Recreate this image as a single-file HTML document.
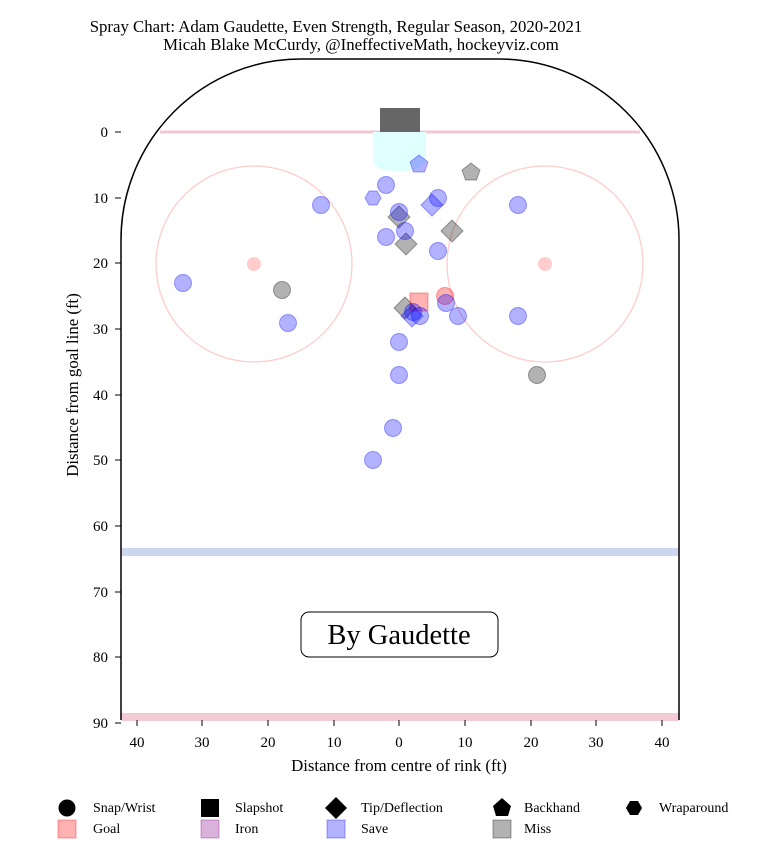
<!DOCTYPE html><html><head><style>body{margin:0;background:#fff}svg{display:block;font-family:"Liberation Serif",serif}</style></head><body>
<svg width="763" height="865" viewBox="0 0 763 865" xmlns="http://www.w3.org/2000/svg">
<text x="336" y="32" font-size="16.8" text-anchor="middle">Spray Chart: Adam Gaudette, Even Strength, Regular Season, 2020-2021</text>
<text x="361" y="50" font-size="16.8" text-anchor="middle">Micah Blake McCurdy, @IneffectiveMath, hockeyviz.com</text>
<line x1="160" y1="132" x2="640" y2="132" stroke="#f0c8d2" stroke-width="3"/>
<rect x="121" y="548" width="558" height="8" fill="#ccd6ee"/>
<rect x="121" y="713" width="558" height="8" fill="#f3cad5"/>
<path d="M373,132 H426 V160 Q426,171 399,171 Q373,171 373,160 Z" fill="#e0ffff"/>
<rect x="380" y="108" width="40" height="24" fill="#666"/>
<path d="M121,720 V240 A180,181 0 0 1 301,59 H499 A180,181 0 0 1 679,240 V720" fill="none" stroke="#000" stroke-width="1.5"/>
<circle cx="254" cy="264" r="98" fill="none" stroke="#fcc" stroke-width="1.3"/>
<circle cx="545" cy="264" r="98" fill="none" stroke="#fcc" stroke-width="1.3"/>
<circle cx="254" cy="264" r="7" fill="#fcc"/><circle cx="545" cy="264" r="7" fill="#fcc"/>
<g fill="rgba(0,0,0,0.3)" stroke="rgba(0,0,0,0.35)">
<circle cx="282" cy="290" r="8.5"/><circle cx="537" cy="375" r="8.5"/>
<polygon points="399,206 410,217 399,228 388,217"/><polygon points="406,233 417,244 406,255 395,244"/>
<polygon points="452,220 463,231 452,242 441,231"/><polygon points="405,297 416,308 405,319 394,308"/>
<polygon points="471,163 480,170 476.5,180 465.5,180 462,170"/>
</g>
<g fill="rgba(255,0,0,0.3)" stroke="rgba(255,0,0,0.35)">
<circle cx="445" cy="296" r="8.5"/><rect x="410" y="293" width="18" height="18"/>
</g>
<g fill="rgba(0,0,255,0.3)" stroke="rgba(0,0,255,0.35)">
<circle cx="386" cy="185" r="8.5"/><circle cx="321" cy="205" r="8.5"/><circle cx="399" cy="212" r="8.5"/><circle cx="405" cy="231" r="8.5"/><circle cx="386" cy="237" r="8.5"/><circle cx="438" cy="198" r="8.5"/><circle cx="438" cy="251" r="8.5"/><circle cx="183" cy="283" r="8.5"/><circle cx="288" cy="323" r="8.5"/><circle cx="446" cy="303" r="8.5"/><circle cx="458" cy="316" r="8.5"/><circle cx="518" cy="205" r="8.5"/><circle cx="518" cy="316" r="8.5"/><circle cx="399" cy="342" r="8.5"/><circle cx="399" cy="375" r="8.5"/><circle cx="393" cy="428" r="8.5"/><circle cx="373" cy="460" r="8.5"/><circle cx="413" cy="312" r="8.5"/><circle cx="420" cy="316" r="8.5"/>
<polygon points="365,198 369,191 377,191 381,198 377,205 369,205"/>
<polygon points="419,155 428,162 424.5,172 413.5,172 410,162"/>
<polygon points="432,194 443,205 432,216 421,205"/>
<polygon points="412,305 423,316 412,327 401,316"/>
</g>
<g font-size="15" text-anchor="end">
<text x="108" y="137">0</text><text x="108" y="203">10</text><text x="108" y="268">20</text><text x="108" y="334">30</text><text x="108" y="400">40</text><text x="108" y="465">50</text><text x="108" y="531">60</text><text x="108" y="597">70</text><text x="108" y="662">80</text><text x="108" y="728">90</text>
</g>
<g stroke="#000"><line x1="115" y1="132" x2="121" y2="132"/><line x1="115" y1="198" x2="121" y2="198"/><line x1="115" y1="263" x2="121" y2="263"/><line x1="115" y1="329" x2="121" y2="329"/><line x1="115" y1="395" x2="121" y2="395"/><line x1="115" y1="460" x2="121" y2="460"/><line x1="115" y1="526" x2="121" y2="526"/><line x1="115" y1="592" x2="121" y2="592"/><line x1="115" y1="657" x2="121" y2="657"/><line x1="115" y1="723" x2="121" y2="723"/>
<line x1="137" y1="720" x2="137" y2="726"/><line x1="202" y1="720" x2="202" y2="726"/><line x1="268" y1="720" x2="268" y2="726"/><line x1="334" y1="720" x2="334" y2="726"/><line x1="399" y1="720" x2="399" y2="726"/><line x1="465" y1="720" x2="465" y2="726"/><line x1="531" y1="720" x2="531" y2="726"/><line x1="596" y1="720" x2="596" y2="726"/><line x1="662" y1="720" x2="662" y2="726"/></g>
<g font-size="15" text-anchor="middle">
<text x="137" y="747">40</text><text x="202" y="747">30</text><text x="268" y="747">20</text><text x="334" y="747">10</text><text x="399" y="747">0</text><text x="465" y="747">10</text><text x="531" y="747">20</text><text x="596" y="747">30</text><text x="662" y="747">40</text>
<text x="399" y="771" font-size="16.8">Distance from centre of rink (ft)</text>
</g>
<text transform="translate(78,385) rotate(-90)" font-size="16.8" text-anchor="middle">Distance from goal line (ft)</text>
<rect x="301" y="612" width="197" height="45" rx="8" fill="#fff" stroke="#000"/>
<text x="399" y="644" font-size="28.5" text-anchor="middle">By Gaudette</text>
<g font-size="14">
<circle cx="67" cy="808" r="8.5"/><text x="93" y="812">Snap/Wrist</text>
<rect x="201" y="799" width="18" height="18"/><text x="235" y="812">Slapshot</text>
<polygon points="336,797 347,808 336,819 325,808"/><text x="361" y="812">Tip/Deflection</text>
<polygon points="502,798 511,806 508,816 496,816 493,806"/><text x="524" y="812">Backhand</text>
<polygon points="626,808 630,801 638,801 642,808 638,815 630,815"/><text x="659" y="812">Wraparound</text>
<rect x="58" y="820" width="18" height="18" fill="rgba(255,0,0,0.3)" stroke="rgba(255,0,0,0.35)"/><text x="93" y="833">Goal</text>
<rect x="201" y="820" width="18" height="18" fill="rgba(128,0,128,0.3)" stroke="rgba(128,0,128,0.35)"/><text x="235" y="833">Iron</text>
<rect x="327" y="820" width="18" height="18" fill="rgba(0,0,255,0.3)" stroke="rgba(0,0,255,0.35)"/><text x="361" y="833">Save</text>
<rect x="493" y="820" width="18" height="18" fill="rgba(0,0,0,0.3)" stroke="rgba(0,0,0,0.35)"/><text x="524" y="833">Miss</text>
</g>
</svg></body></html>
